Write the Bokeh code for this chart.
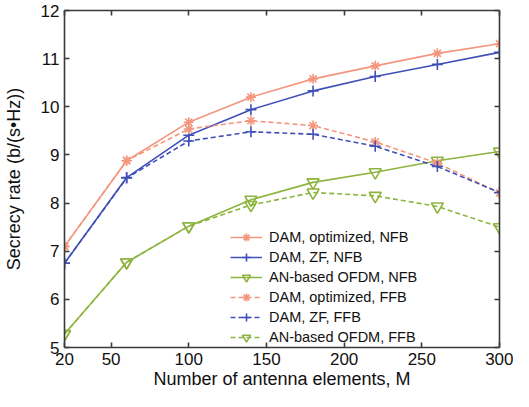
from bokeh.plotting import figure
from bokeh.models import LinearAxis, FixedTicker, Range1d
from bokeh.embed import file_html
from bokeh.resources import INLINE

# ---- data ----
antennas = [20, 60, 100, 140, 180, 220, 260, 300]
dam_opt_nfb = [7.10, 8.88, 9.68, 10.20, 10.58, 10.85, 11.11, 11.31]
dam_zf_nfb = [6.75, 8.53, 9.41, 9.94, 10.33, 10.63, 10.88, 11.13]
an_nfb = [5.28, 6.77, 7.52, 8.07, 8.43, 8.64, 8.88, 9.07]
dam_opt_ffb = [7.10, 8.88, 9.54, 9.71, 9.61, 9.27, 8.83, 8.21]
dam_zf_ffb = [6.75, 8.52, 9.29, 9.48, 9.43, 9.18, 8.76, 8.22]
an_ffb = [5.28, 6.77, 7.52, 7.96, 8.22, 8.15, 7.93, 7.50]

x_ticks = [20, 50, 100, 150, 200, 250, 300]
y_ticks = [5, 6, 7, 8, 9, 10, 11, 12]

labels = ["DAM, optimized, NFB", "DAM, ZF, NFB", "AN-based OFDM, NFB",
          "DAM, optimized, FFB", "DAM, ZF, FFB", "AN-based OFDM, FFB"]
x_title = "Number of antenna elements, M"
y_title = "Secrecy rate (b/(s\u2022Hz))"

SALMON = "#F4967D"
BLUE = "#4050B8"
GREEN = "#8DB43E"
AXIS = "#3a3a3a"
FONT = "Liberation Sans"

p = figure(width=513, height=391,
           min_border_left=59, min_border_right=14,
           min_border_top=10, min_border_bottom=40,
           x_range=Range1d(20, 300), y_range=Range1d(5, 12),
           output_backend="svg", toolbar_location=None)
p.xgrid.visible = False
p.ygrid.visible = False
p.outline_line_color = None
p.background_fill_color = "white"
p.border_fill_color = "white"

series = [
    (dam_opt_nfb, SALMON, "solid", "asterisk", 10),
    (dam_zf_nfb, BLUE, "solid", "cross", 11),
    (an_nfb, GREEN, "solid", "inverted_triangle", 12),
    (dam_opt_ffb, SALMON, "5 3", "asterisk", 10),
    (dam_zf_ffb, BLUE, "5 3", "cross", 11),
    (an_ffb, GREEN, "5 3", "inverted_triangle", 12),
]
for (vals, col, dash, marker, size), lab in zip(series, labels):
    p.line(antennas, vals, line_color=col, line_width=1.6, line_dash=dash,
           legend_label=lab)
    p.scatter(antennas, vals, marker=marker, size=size, line_color=col,
              fill_color=None, line_width=1.6, legend_label=lab)

def style_axis(ax, ticks, show_labels):
    ax.ticker = FixedTicker(ticks=ticks)
    ax.axis_line_color = AXIS
    ax.axis_line_width = 1.6
    ax.major_tick_line_color = AXIS
    ax.major_tick_line_width = 1.6
    ax.major_tick_in = 5
    ax.major_tick_out = 0
    ax.minor_tick_line_color = None
    ax.major_label_text_font = FONT
    ax.major_label_text_font_size = "17px"
    ax.major_label_text_color = "#111111"
    ax.axis_label_text_font = FONT
    ax.axis_label_text_font_size = "18px"
    ax.axis_label_text_font_style = "normal"
    ax.axis_label_text_color = "#111111"
    if not show_labels:
        ax.major_label_overrides = {t: "" for t in ticks}
        ax.major_label_standoff = 0

xa = p.xaxis[0]
ya = p.yaxis[0]
style_axis(xa, x_ticks, True)
style_axis(ya, y_ticks, True)
xa.major_label_standoff = 5
ya.major_label_standoff = 5
xa.axis_label = x_title
xa.axis_label_standoff = 1
ya.axis_label = y_title
ya.axis_label_standoff = 14

top = LinearAxis()
right = LinearAxis()
style_axis(top, x_ticks, False)
style_axis(right, y_ticks, False)
p.add_layout(top, "above")
p.add_layout(right, "right")

leg = p.legend[0]
leg.location = (166, 0)
leg.margin = 0
leg.padding = 0
leg.spacing = 0
leg.glyph_width = 32
leg.glyph_height = 20
leg.label_height = 20
leg.label_standoff = 7
leg.label_text_font = FONT
leg.label_text_font_size = "14.5px"
leg.label_text_color = "#111111"
leg.border_line_alpha = 0
leg.background_fill_alpha = 0

open("out.html", "w").write(file_html(p, INLINE))
